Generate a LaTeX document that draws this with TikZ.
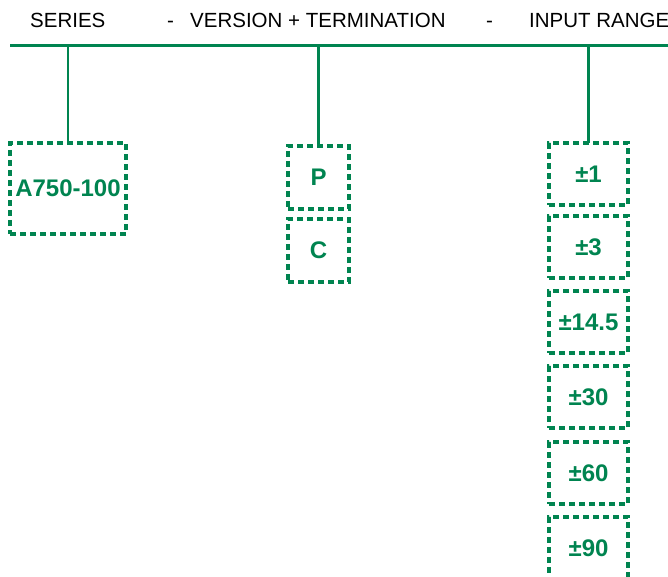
\documentclass[tikz,border=0pt]{standalone}
\usepackage{fontspec}
\setmainfont{Liberation Sans}
\definecolor{grn}{RGB}{0,132,80}
\begin{document}
\begin{tikzpicture}[x=1pt,y=-1pt,
  hdr/.style={anchor=base west,inner sep=0pt,font=\fontsize{20.5}{22}\selectfont,text=black},
  optbox/.style={draw=grn,line width=3.2pt,dash pattern=on 6pt off 4pt,text=grn,
    font=\bfseries\fontsize{24}{26}\selectfont,inner sep=0pt,outer sep=0pt,anchor=north west},
  conn/.style={draw=grn,line width=2.6pt}]
\useasboundingbox (0,0) rectangle (668,577);
\node[hdr] (hs) at (30,28) {SERIES};
\node[hdr] (hd1) at (167,28) {-};
\node[hdr] (hv) at (190,28) {VERSION + TERMINATION};
\node[hdr] (hd2) at (486,28) {-};
\node[hdr] (hi) at (529,28) {INPUT RANGE};
\coordinate (L) at (10,46);
\coordinate (R) at (668,46);
\draw[conn,line width=3pt] (L) -- (R);
\node[optbox,minimum width=116pt,minimum height=91pt] (s) at (10,143) {A750-100};
\node[optbox,minimum width=61pt,minimum height=63pt] (p) at (288,146) {P};
\node[optbox,minimum width=61pt,minimum height=63pt] (c) at (288,219) {C};
\node[optbox,minimum width=79pt,minimum height=62pt] (r1) at (549,143) {±1};
\node[optbox,minimum width=79pt,minimum height=62pt] (r2) at (549,216) {±3};
\node[optbox,minimum width=79pt,minimum height=62pt] (r3) at (549,291) {±14.5};
\node[optbox,minimum width=79pt,minimum height=62pt] (r4) at (549,366) {±30};
\node[optbox,minimum width=79pt,minimum height=62pt] (r5) at (549,442) {±60};
\node[optbox,minimum width=79pt,minimum height=62pt] (r6) at (549,517) {±90};
\draw[conn] (s.north) -- (s.north |- L);
\draw[conn] (p.north) -- (p.north |- L);
\draw[conn] (r1.north) -- (r1.north |- L);
\end{tikzpicture}
\end{document}
